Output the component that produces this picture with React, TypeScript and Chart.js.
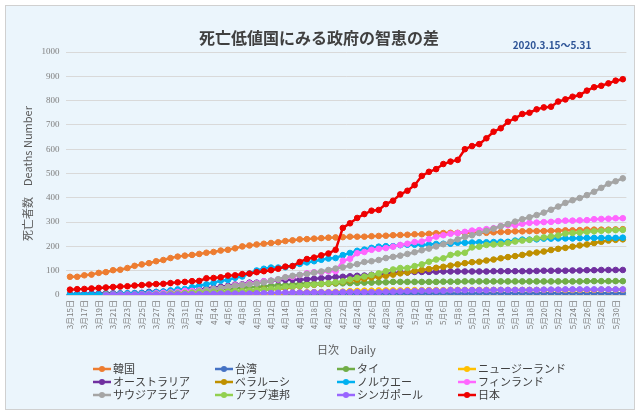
import { useEffect, useRef } from 'react';
import { Chart, registerables } from 'chart.js';
Chart.register(...registerables);

const LABELS = [
  '3月15日','3月16日','3月17日','3月18日','3月19日','3月20日','3月21日','3月22日','3月23日','3月24日','3月25日','3月26日','3月27日','3月28日','3月29日','3月30日','3月31日',
  '4月1日','4月2日','4月3日','4月4日','4月5日','4月6日','4月7日','4月8日','4月9日','4月10日','4月11日','4月12日','4月13日','4月14日','4月15日','4月16日','4月17日','4月18日','4月19日','4月20日','4月21日','4月22日','4月23日','4月24日','4月25日','4月26日','4月27日','4月28日','4月29日','4月30日',
  '5月1日','5月2日','5月3日','5月4日','5月5日','5月6日','5月7日','5月8日','5月9日','5月10日','5月11日','5月12日','5月13日','5月14日','5月15日','5月16日','5月17日','5月18日','5月19日','5月20日','5月21日','5月22日','5月23日','5月24日','5月25日','5月26日','5月27日','5月28日','5月29日','5月30日','5月31日'
];

const N = null;

const KOREA = [75,75,81,84,91,94,102,104,111,120,126,131,139,144,152,158,162,
  165,169,174,177,183,186,192,200,204,208,211,214,217,222,225,229,230,232,234,236,237,238,240,240,240,242,243,244,246,247,
  248,250,250,252,254,255,256,256,256,256,256,256,258,259,260,262,262,263,263,263,264,264,266,266,267,269,269,269,269,270,271];
const TAIWAN = [1,1,1,1,1,2,2,2,2,2,2,2,2,2,2,5,5,
  5,5,5,5,5,5,5,5,5,5,6,6,6,6,6,6,6,6,6,6,6,6,6,6,6,6,6,6,6,6,
  6,6,6,6,6,6,6,6,6,6,7,7,7,7,7,7,7,7,7,7,7,7,7,7,7,7,7,7,7,7,7];
const THAILAND = [1,1,1,1,1,1,1,1,1,1,4,4,5,6,6,7,10,
  12,15,19,20,23,26,27,30,32,33,35,38,40,41,43,46,47,47,47,47,47,48,49,50,51,51,52,52,54,54,
  54,54,54,54,54,55,55,55,56,56,56,56,56,56,56,56,56,56,56,56,56,56,56,56,56,57,57,57,57,57,57];
const NEWZEALAND = [N,N,N,N,N,N,N,N,N,N,N,N,N,N,1,1,1,
  1,1,1,1,1,1,1,1,1,2,4,4,5,9,9,11,11,12,12,12,13,14,16,17,18,18,19,19,19,19,
  20,20,20,20,20,20,21,21,21,21,21,21,21,21,21,21,21,21,21,21,21,21,21,21,21,21,21,22,22,22,22];
const AUSTRALIA = [3,5,5,6,6,7,7,7,7,8,9,13,13,14,16,18,19,
  20,21,28,30,34,38,43,44,51,51,56,58,61,62,63,63,65,67,69,71,74,75,77,79,80,83,83,88,91,93,
  93,95,95,95,96,97,97,97,97,97,97,97,98,98,98,98,98,98,99,100,100,100,100,101,101,102,102,103,103,103,103];
const BELARUS = [N,N,N,N,N,N,N,N,N,N,N,N,N,N,N,N,1,
  2,4,4,8,8,13,13,16,16,19,23,23,26,29,33,36,40,42,45,47,51,55,60,63,67,72,75,79,84,89,
  93,99,103,107,112,116,121,126,131,135,137,142,146,151,156,160,165,171,175,179,185,190,194,199,204,208,214,219,224,227,229];
const NORWAY = [3,3,3,3,3,3,4,6,7,7,7,10,12,14,19,23,25,
  32,38,44,50,59,62,71,76,89,101,108,113,113,114,119,128,134,139,145,150,152,164,173,182,187,194,199,201,201,205,
  207,207,207,208,210,211,211,215,215,216,217,217,218,219,219,224,228,228,229,232,232,233,233,233,234,235,235,235,235,235,236];
const FINLAND = [N,N,N,N,N,N,1,1,1,1,3,5,7,9,11,13,17,
  17,19,20,25,28,34,40,42,48,49,56,59,64,72,75,82,90,94,94,98,98,141,149,172,177,186,190,193,199,206,
  211,218,220,230,240,246,252,255,260,265,267,271,275,284,287,287,293,297,298,300,301,304,306,306,307,308,312,313,314,316,316];
const SAUDI = [N,N,N,N,N,N,N,N,N,N,1,1,4,4,8,8,8,
  10,16,21,25,29,34,38,41,44,47,52,59,65,73,79,83,87,92,97,103,109,114,121,127,136,139,144,152,157,162,
  169,176,184,191,200,209,219,229,239,246,255,264,273,283,292,302,312,320,329,339,351,364,379,390,399,411,425,441,458,468,480];
const UAE = [N,N,N,N,N,2,2,2,2,2,2,2,2,2,5,5,8,
  9,10,11,12,12,14,16,16,18,20,22,25,28,33,35,37,41,43,46,48,52,56,64,71,76,82,89,98,105,111,
  111,119,126,137,146,151,165,171,174,196,199,206,208,210,214,220,224,227,233,237,241,245,253,255,257,260,262,264,266,267,268];
const SINGAPORE = [N,N,N,N,N,0,2,2,2,2,2,2,2,2,2,3,3,
  3,3,5,5,6,6,6,6,6,7,7,8,9,10,10,10,10,11,11,11,11,12,12,12,12,12,12,14,14,15,
  16,16,18,18,18,18,20,20,20,20,20,20,21,21,21,21,21,21,21,22,22,22,23,23,23,23,23,23,23,23,23];
const JAPAN = [22,24,25,27,29,31,33,35,36,39,41,43,45,46,49,52,54,
  57,58,69,70,73,80,81,86,88,94,98,102,108,117,119,136,148,154,163,171,186,276,295,317,333,347,350,374,388,414,
  429,452,490,507,518,539,549,556,600,613,621,645,672,686,713,727,745,750,764,772,775,796,805,816,823,841,855,861,871,882,888];

const NAMES = ['韓国','台湾','タイ','ニュージーランド','オーストラリア','ベラルーシ','ノルウエー','フィンランド','サウジアラビア','アラブ連邦','シンガポール','日本'];
const VALUES = [KOREA, TAIWAN, THAILAND, NEWZEALAND, AUSTRALIA, BELARUS, NORWAY, FINLAND, SAUDI, UAE, SINGAPORE, JAPAN];
const COLORS = ['#ED7D31','#4472C4','#70AD47','#FFC000','#7030A0','#BF9000','#00B0F0','#FF66FF','#A5A5A5','#92D050','#9966FF','#EE0000'];

const TITLE = '死亡低値国にみる政府の智恵の差';
const SUBTITLE = '2020.3.15～5.31';
const Y_TITLE = '死亡者数　Deaths Number';
const X_TITLE = '日次　Daily';

const JP = '"Noto Sans CJK JP", "Noto Sans", sans-serif';

export default function App() {
  const ref = useRef<HTMLCanvasElement>(null);
  useEffect(() => {
    const canvas = ref.current;
    if (!canvas) return;
    const deco = {
      id: 'deco',
      beforeDraw(chart: any) {
        const ctx = chart.ctx;
        ctx.save();
        ctx.fillStyle = '#ffffff';
        ctx.fillRect(0, 0, 640, 414);
        ctx.fillStyle = '#EBF5FC';
        ctx.fillRect(5.5, 5.5, 629, 404);
        ctx.strokeStyle = '#D0D0D0';
        ctx.lineWidth = 1;
        ctx.strokeRect(5.5, 5.5, 629, 404);
        ctx.restore();
      },
      afterDraw(chart: any) {
        const ctx = chart.ctx;
        const ca = chart.chartArea;
        ctx.save();
        ctx.textBaseline = 'middle';
        ctx.textAlign = 'center';
        ctx.fillStyle = '#404040';
        ctx.font = 'bold 16px ' + JP;
        ctx.fillText(TITLE, 319, 38);
        ctx.fillStyle = '#2F5597';
        ctx.font = 'bold 10px ' + JP;
        ctx.fillText(SUBTITLE, 552, 45);
        ctx.fillStyle = '#595959';
        ctx.font = '11px ' + JP;
        ctx.fillText(X_TITLE, (ca.left + ca.right) / 2, 350);
        ctx.save();
        ctx.translate(28, (ca.top + ca.bottom) / 2);
        ctx.rotate(-Math.PI / 2);
        ctx.fillText(Y_TITLE, 0, 0);
        ctx.restore();
        // legend
        const cols = [93, 215, 337, 458];
        const rows = [369, 382, 395];
        ctx.font = '11px ' + JP;
        ctx.textAlign = 'left';
        NAMES.forEach((name, i) => {
          const x0 = cols[i % 4];
          const y0 = rows[Math.floor(i / 4)];
          ctx.strokeStyle = COLORS[i];
          ctx.lineWidth = 2.5;
          ctx.beginPath();
          ctx.moveTo(x0, y0);
          ctx.lineTo(x0 + 18, y0);
          ctx.stroke();
          ctx.fillStyle = COLORS[i];
          ctx.beginPath();
          ctx.arc(x0 + 9, y0, 3, 0, Math.PI * 2);
          ctx.fill();
          ctx.fillStyle = '#404040';
          ctx.fillText(name, x0 + 20, y0);
        });
        ctx.restore();
      }
    };
    const datasets = NAMES.map((name, i) => ({
      label: name,
      data: VALUES[i],
      borderColor: COLORS[i],
      backgroundColor: COLORS[i],
      pointBackgroundColor: COLORS[i],
      pointBorderColor: COLORS[i],
      borderWidth: 2.5,
      pointRadius: 2.8,
      pointBorderWidth: 1,
      tension: 0,
      fill: false,
      order: NAMES.length - i,
    }));
    const chart = new Chart(canvas, {
      type: 'line',
      data: { labels: LABELS, datasets },
      options: {
        animation: false,
        responsive: false,
        maintainAspectRatio: false,
        layout: { padding: { left: 0, top: 52, right: 13.6, bottom: 79 } },
        plugins: { legend: { display: false }, title: { display: false }, tooltip: { enabled: false } },
        scales: {
          x: {
            offset: true,
            grid: { display: false, drawTicks: false },
            border: { display: false },
            ticks: {
              autoSkip: false,
              minRotation: 90,
              maxRotation: 90,
              padding: 5,
              color: '#7F7F7F',
              font: { family: JP, size: 8 },
              callback: (_v: any, i: number) => (i % 2 === 0 ? LABELS[i] : ''),
            },
            afterFit: (s: any) => { s.height = 40; },
          },
          y: {
            min: 0,
            max: 1000,
            grid: { color: '#D9D9D9', drawTicks: false },
            border: { display: false },
            ticks: {
              stepSize: 100,
              padding: 7,
              color: '#7F7F7F',
              font: { family: '"Liberation Serif", serif', size: 9 },
              callback: (v: any) => String(v),
            },
            afterFit: (s: any) => { s.width = 66.4; },
          },
        },
      },
      plugins: [deco],
    } as any);
    return () => chart.destroy();
  }, []);
  return (
    <div style={{ position: 'fixed', left: 0, top: 0, width: 640, height: 414 }}>
      <canvas ref={ref} width={640} height={414} style={{ display: 'block', width: 640, height: 414 }} />
    </div>
  );
}
